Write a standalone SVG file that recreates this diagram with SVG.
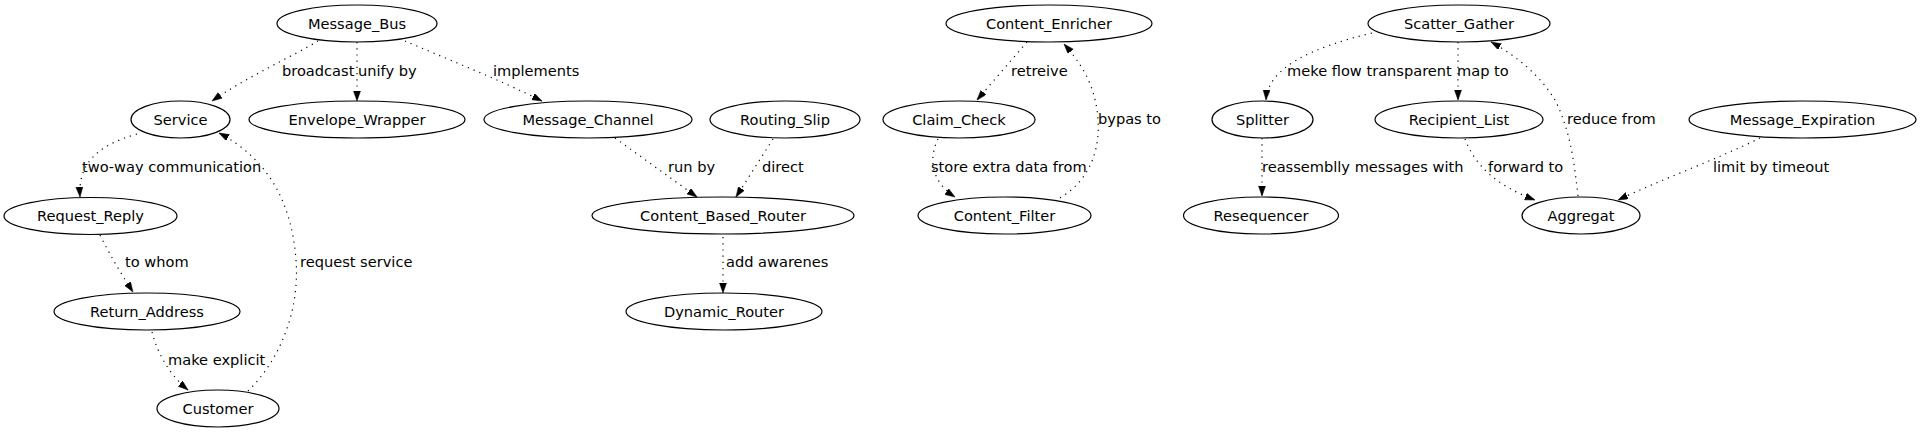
<svg xmlns="http://www.w3.org/2000/svg" width="1920" height="432" viewBox="0 0 1920 432">
<style>
.n ellipse{fill:none;stroke:#000;stroke-width:1.2}
.n text{font-family:"DejaVu Sans",sans-serif;font-size:14.6px;text-anchor:middle;fill:#000}
.e path{fill:none;stroke:#000;stroke-width:1.2;stroke-dasharray:1.2,5;marker-end:url(#ah)}
.e text{font-family:"DejaVu Sans",sans-serif;font-size:14.6px;fill:#000}
</style>
<defs>
<marker id="ah" markerUnits="userSpaceOnUse" markerWidth="11" markerHeight="8" refX="10" refY="3.5" orient="auto">
<path d="M0,0 L10,3.5 L0,7 z" fill="#000" stroke="#000" stroke-width="0.5"/>
</marker>
</defs>
<rect width="1920" height="432" fill="#fff"/>
<g id="edges" class="e">
<path d="M318,41 C295,55 245,78 212,101"/>
<text x="282" y="76">broadcast</text>
<path d="M357,42 L357,101"/>
<text x="358" y="76">unify by</text>
<path d="M405,41 C440,56 500,80 542,101"/>
<text x="493" y="76">implements</text>
<path d="M137,134 C95,146 78,165 80,197"/>
<text x="82" y="172">two-way communication</text>
<path d="M248,391 C280,360 300,310 296,260 C292,205 270,160 219,133"/>
<text x="300" y="267">request service</text>
<path d="M100,235 C110,255 120,272 133,292"/>
<text x="125" y="267">to whom</text>
<path d="M152,332 C158,355 170,375 188,390"/>
<text x="168" y="365">make explicit</text>
<path d="M615,138 L697,197"/>
<text x="668" y="172">run by</text>
<path d="M773,139 L736,197"/>
<text x="762" y="172">direct</text>
<path d="M723,237 L723,293"/>
<text x="726" y="267">add awarenes</text>
<path d="M1027,42 L977,100"/>
<text x="1011" y="76">retreive</text>
<path d="M938,139 C928,160 932,182 955,197"/>
<text x="931" y="172">store extra data from</text>
<path d="M1060,198 C1090,180 1100,150 1098,120 C1096,85 1080,62 1064,44"/>
<text x="1098" y="124">bypas to</text>
<path d="M1372,33 C1310,48 1268,68 1266,100"/>
<text x="1287" y="76">meke flow transparent</text>
<path d="M1458,42 L1458,100"/>
<text x="1457" y="76">map to</text>
<path d="M1262,138 L1262,196"/>
<text x="1262" y="172">reassemblly messages with</text>
<path d="M1465,139 C1475,165 1495,185 1535,200"/>
<text x="1488" y="172">forward to</text>
<path d="M1578,196 C1574,160 1570,130 1555,100 C1540,75 1515,55 1491,42"/>
<text x="1567" y="124">reduce from</text>
<path d="M1760,138 C1720,158 1660,180 1618,200"/>
<text x="1713" y="172">limit by timeout</text>
</g>
<g id="Message_Bus" class="n"><ellipse cx="357" cy="23.5" rx="80" ry="18.5"/><text x="357" y="28.5">Message_Bus</text></g>
<g id="Service" class="n"><ellipse cx="180.5" cy="119.5" rx="49.5" ry="18.5"/><text x="180.5" y="124.5">Service</text></g>
<g id="Envelope_Wrapper" class="n"><ellipse cx="357" cy="119.5" rx="108" ry="18.5"/><text x="357" y="124.5">Envelope_Wrapper</text></g>
<g id="Request_Reply" class="n"><ellipse cx="90.5" cy="216" rx="86.5" ry="18.5"/><text x="90.5" y="221">Request_Reply</text></g>
<g id="Return_Address" class="n"><ellipse cx="147" cy="311.5" rx="93" ry="18.5"/><text x="147" y="316.5">Return_Address</text></g>
<g id="Customer" class="n"><ellipse cx="218" cy="408.5" rx="61" ry="18.5"/><text x="218" y="413.5">Customer</text></g>
<g id="Message_Channel" class="n"><ellipse cx="588" cy="119.5" rx="104" ry="18.5"/><text x="588" y="124.5">Message_Channel</text></g>
<g id="Routing_Slip" class="n"><ellipse cx="785" cy="119.5" rx="75" ry="18.5"/><text x="785" y="124.5">Routing_Slip</text></g>
<g id="Content_Based_Router" class="n"><ellipse cx="723" cy="215.5" rx="131" ry="18.5"/><text x="723" y="220.5">Content_Based_Router</text></g>
<g id="Dynamic_Router" class="n"><ellipse cx="724" cy="311.5" rx="98" ry="18.5"/><text x="724" y="316.5">Dynamic_Router</text></g>
<g id="Content_Enricher" class="n"><ellipse cx="1049" cy="23.5" rx="103" ry="18.5"/><text x="1049" y="28.5">Content_Enricher</text></g>
<g id="Claim_Check" class="n"><ellipse cx="959" cy="119.5" rx="76" ry="18.5"/><text x="959" y="124.5">Claim_Check</text></g>
<g id="Content_Filter" class="n"><ellipse cx="1004.5" cy="215.5" rx="86.5" ry="18.5"/><text x="1004.5" y="220.5">Content_Filter</text></g>
<g id="Scatter_Gather" class="n"><ellipse cx="1459" cy="23.5" rx="91" ry="18.5"/><text x="1459" y="28.5">Scatter_Gather</text></g>
<g id="Splitter" class="n"><ellipse cx="1262.5" cy="119.5" rx="50.5" ry="18.5"/><text x="1262.5" y="124.5">Splitter</text></g>
<g id="Recipient_List" class="n"><ellipse cx="1459" cy="119.5" rx="84" ry="18.5"/><text x="1459" y="124.5">Recipient_List</text></g>
<g id="Resequencer" class="n"><ellipse cx="1261" cy="215.5" rx="77.5" ry="18.5"/><text x="1261" y="220.5">Resequencer</text></g>
<g id="Aggregat" class="n"><ellipse cx="1581" cy="215.5" rx="59" ry="18.5"/><text x="1581" y="220.5">Aggregat</text></g>
<g id="Message_Expiration" class="n"><ellipse cx="1802.5" cy="119.5" rx="113.5" ry="18.5"/><text x="1802.5" y="124.5">Message_Expiration</text></g>
</svg>
